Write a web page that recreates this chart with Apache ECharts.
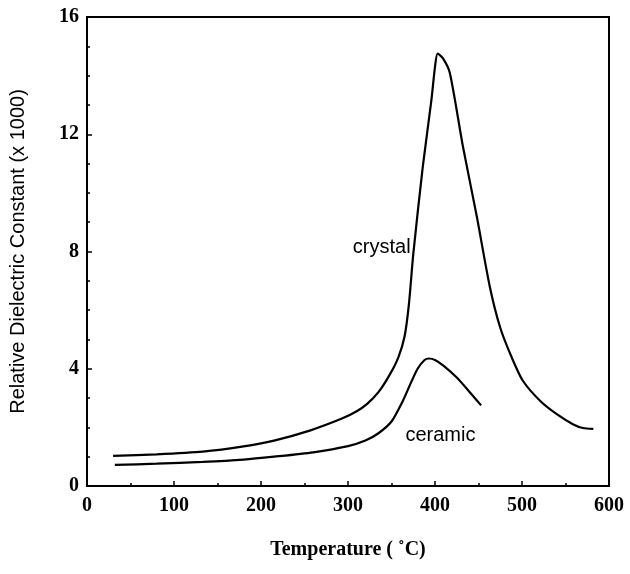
<!DOCTYPE html>
<html><head><meta charset="utf-8">
<script src="https://cdn.jsdelivr.net/npm/echarts@6/dist/echarts.min.js"></script>
<style>html,body{margin:0;padding:0;background:#fff}#c{width:630px;height:574px}</style>
</head><body><div id="c"></div>
<script>
const crystalT = [30, 80, 133, 180, 215, 256, 293, 310, 322, 335, 348, 358, 365, 370, 375, 386, 396, 400, 403, 409, 417, 432, 448, 463, 475, 488, 501, 521, 540, 559, 570, 582];
const crystalV = [1.03, 1.08, 1.17, 1.35, 1.55, 1.89, 2.3, 2.55, 2.8, 3.2, 3.8, 4.4, 5.1, 6.2, 7.9, 10.9, 13.2, 14.3, 14.75, 14.6, 14.1, 11.6, 9.2, 6.8, 5.4, 4.4, 3.59, 2.9, 2.45, 2.1, 1.98, 1.95];
const ceramicT = [32, 80, 133, 180, 215, 260, 300, 320, 335, 350, 363, 372, 380, 388, 393, 400, 410, 425, 440, 453];
const ceramicV = [0.72, 0.76, 0.82, 0.9, 1.0, 1.15, 1.36, 1.55, 1.8, 2.2, 2.9, 3.5, 4.0, 4.3, 4.35, 4.3, 4.1, 3.7, 3.2, 2.75];
const xTicks = [0, 100, 200, 300, 400, 500, 600];
const yTicks = [0, 4, 8, 12, 16];
const labelCrystal = {text: 'crystal', T: 372, v: 8.14};
const labelCeramic = {text: 'ceramic', T: 366, v: 1.74};

const serif = '"Liberation Serif", "DejaVu Serif", serif';
const sans = '"Liberation Sans", "DejaVu Sans", sans-serif';
const zip = (a, b) => a.map((t, i) => [t, b[i]]);

const chart = echarts.init(document.getElementById('c'));
chart.setOption({
  animation: false,
  grid: {left: 87, right: 21, top: 17, bottom: 88, show: true, borderColor: '#000', borderWidth: 2},
  xAxis: {
    type: 'value', min: 0, max: 600, interval: 100,
    name: 'Temperature ( ˚C)', nameLocation: 'middle', nameGap: 54,
    nameTextStyle: {fontFamily: serif, fontSize: 20, color: '#000', fontWeight: 'bold'},
    axisLine: {lineStyle: {color: '#000', width: 2}},
    axisTick: {inside: true, length: 5, lineStyle: {color: '#000', width: 1.5}},
    minorTick: {show: true, splitNumber: 2, length: 3, lineStyle: {color: '#000', width: 1.5}},
    splitLine: {show: false},
    axisLabel: {fontFamily: serif, fontSize: 20, fontWeight: 'bold', color: '#000', margin: 10,
      formatter: v => xTicks.includes(v) ? String(v) : ''}
  },
  yAxis: {
    type: 'value', min: 0, max: 16, interval: 4,
    name: 'Relative Dielectric Constant (x 1000)', nameLocation: 'middle', nameGap: 59,
    nameTextStyle: {fontFamily: sans, fontSize: 20, color: '#000'},
    axisLine: {lineStyle: {color: '#000', width: 2}},
    axisTick: {inside: true, length: 5, lineStyle: {color: '#000', width: 1.5}},
    minorTick: {show: true, splitNumber: 4, length: 3, lineStyle: {color: '#000', width: 1.5}},
    splitLine: {show: false},
    axisLabel: {fontFamily: serif, fontSize: 20, fontWeight: 'bold', color: '#000', margin: 8,
      formatter: v => yTicks.includes(v) ? String(v) : ''}
  },
  series: [
    {type: 'line', data: zip(crystalT, crystalV), smooth: 0.25, showSymbol: false,
     lineStyle: {color: '#000', width: 2.2}},
    {type: 'line', data: zip(ceramicT, ceramicV), smooth: 0.25, showSymbol: false,
     lineStyle: {color: '#000', width: 2.2}}
  ]
});
const pc = chart.convertToPixel({gridIndex: 0}, [labelCrystal.T, labelCrystal.v]);
const pm = chart.convertToPixel({gridIndex: 0}, [labelCeramic.T, labelCeramic.v]);
chart.setOption({
  graphic: [
    {type: 'text', x: pc[0], y: pc[1], style: {text: labelCrystal.text, align: 'right', verticalAlign: 'middle',
      font: '20px ' + sans, fill: '#000'}},
    {type: 'text', x: pm[0], y: pm[1], style: {text: labelCeramic.text, align: 'left', verticalAlign: 'middle',
      font: '20px ' + sans, fill: '#000'}}
  ]
});
</script></body></html>
